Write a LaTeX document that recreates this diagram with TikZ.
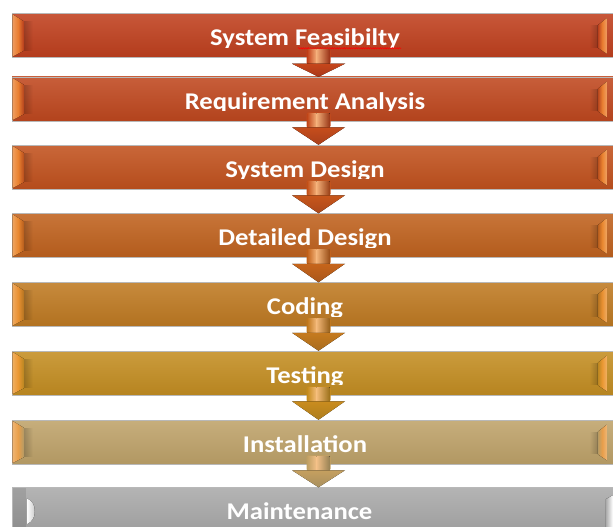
\documentclass[tikz,border=0pt]{standalone}
\usepackage{fontspec}
\newfontfamily\boxfont[FakeStretch=1.11]{Carlito}
\usetikzlibrary{calc,fadings,decorations.pathmorphing}
\definecolor{c1}{HTML}{C0401E}
\definecolor{c2}{HTML}{C0481F}
\definecolor{c3}{HTML}{C2521E}
\definecolor{c4}{HTML}{C0621E}
\definecolor{c5}{HTML}{BF7A22}
\definecolor{c6}{HTML}{C48E22}
\definecolor{c7}{HTML}{BFA36A}
\definecolor{c8}{HTML}{AAAAAA}
\tikzfading[name=fadeR, left color=transparent!0, right color=transparent!100]
\tikzfading[name=fadeL, left color=transparent!100, right color=transparent!0]
\begin{document}
\begin{tikzpicture}[x=1pt,y=-1pt,
  stagebox/.style={rectangle, minimum width=613pt, minimum height=44pt, inner sep=0pt,
    draw=black!28, line width=0.5pt, top color=#1!88!white, bottom color=#1!93!black},
  stagetext/.style={text=white, font=\boxfont\bfseries\fontsize{24}{28}\selectfont,
    inner sep=0pt, anchor=base}]
\useasboundingbox (0,0) rectangle (613,527);
\fill[white] (0,0) rectangle (613,527);
% stage boxes 1..7
\foreach \i/\t/\c/\txt in {1/13.5/c1/System Feasibilty, 2/77/c2/Requirement Analysis,
    3/145/c3/System Design, 4/213.5/c4/Detailed Design, 5/282.5/c5/Coding,
    6/351/c6/Testing, 7/420/c7/Installation}{
  \pgfmathsetmacro\cy{\t+22}
  \node[stagebox=\c] (b\i) at (318.5,\cy) {};
  % left bevel
  \fill[left color=\c!40!orange!65!white, right color=\c!95!black, middle color=\c!40!orange!85!white]
    ($(b\i.north west)+(0.5,1)$) -- ($(b\i.north west)+(12,8)$) --
    ($(b\i.south west)+(12,-7)$) -- ($(b\i.south west)+(0.5,-1)$) -- cycle;
  \fill[black, opacity=0.2, path fading=fadeR]
    ($(b\i.north west)+(12,8)$) rectangle ($(b\i.south west)+(21,-7)$);
  % right bevel
  \fill[left color=\c!95!black, right color=\c!40!orange!65!white, middle color=\c!40!orange!85!white]
    ($(b\i.north west)+(586,12)$) -- ($(b\i.north west)+(595,5)$) --
    ($(b\i.south west)+(595,-4)$) -- ($(b\i.south west)+(586,-10)$) -- cycle;
  \fill[black, opacity=0.2, path fading=fadeL]
    ($(b\i.north west)+(578,12)$) rectangle ($(b\i.south west)+(586,-10)$);
  % label
  \begin{scope}
    \clip (b\i.north west) rectangle ($(b\i.south east)+(0,-10.5)$);
    \node[stagetext] (t\i) at ($(b\i.south)+(-13.5,-12)$) {\txt};
  \end{scope}
}
% spelling mark under the first label
\draw[red, line width=0.6pt, decorate, decoration={snake, amplitude=0.6pt, segment length=2.4pt}]
  ($(t1.base west)+(88,2.5)$) -- ($(t1.base east)+(1,2.5)$);
% stage box 8
\node[stagebox=c8] (b8) at (318.5,509.5) {};
\fill[black, opacity=0.1] ($(b8.north west)+(1.5,1)$) rectangle ($(b8.south west)+(14,0)$);
\fill[left color=white, right color=c8!60!white]
  ($(b8.north west)+(15,11)$) .. controls ($(b8.north west)+(21,14)$) and ($(b8.north west)+(23,18)$) ..
  ($(b8.north west)+(23,24)$) .. controls ($(b8.north west)+(23,30)$) and ($(b8.north west)+(21,34)$) ..
  ($(b8.north west)+(15,37)$) -- cycle;
\fill[left color=c8, right color=white]
  ($(b8.north west)+(594,12)$) -- ($(b8.north west)+(601,8)$) -- ($(b8.south west)+(601,0)$) -- ($(b8.south west)+(594,0)$) -- cycle;
\node[stagetext] (t8) at ($(b8.south)+(-19,-12)$) {Maintenance};
% arrows between stages
\foreach \i/\c in {1/c1, 2/c2, 3/c3, 4/c4, 5/c5, 6/c6, 7/c7}{
  \pgfmathtruncatemacro\j{\i+1}
  \fill[\c!92!orange, rounded corners=2.5pt]
    ($(b\i.south)+(-12,-9)$) rectangle ($(b\i.south)+(12,7)$);
  \fill[left color=\c!95!orange, right color=\c!35!orange!55!white]
    ($(b\i.south)+(-11,-8)$) rectangle ($(b\i.south)+(-2,7)$);
  \fill[left color=\c!35!orange!55!white, right color=\c!80!black]
    ($(b\i.south)+(-2,-8)$) rectangle ($(b\i.south)+(11,7)$);
  \fill[top color=\c!90!orange, bottom color=\c!88!black]
    ($(b\i.south)+(-26.5,6)$) -- ($(b\i.south)+(26.5,6)$) -- (b\j.north) -- cycle;
}
\end{tikzpicture}
\end{document}
